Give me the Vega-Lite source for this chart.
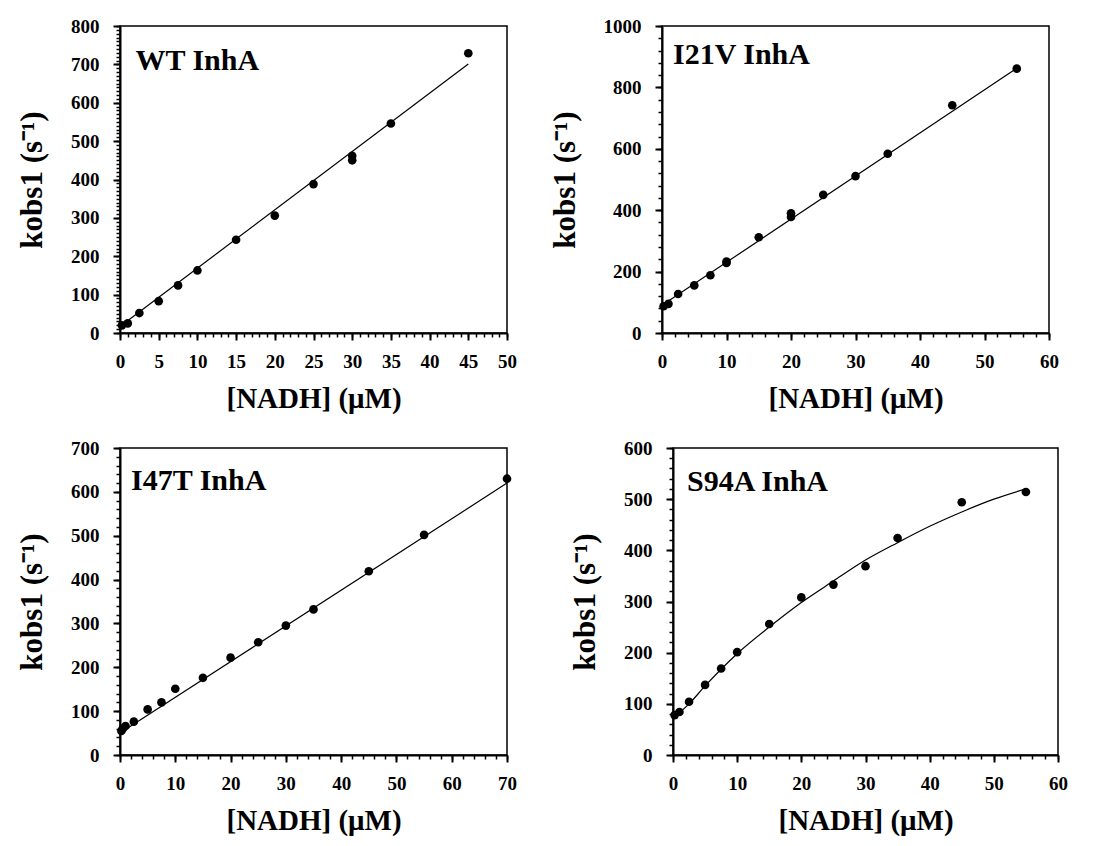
{
  "$schema": "https://vega.github.io/schema/vega-lite/v6.json",
  "padding": {"left": 15, "top": 16, "right": 5, "bottom": 5},
  "background": "white",
  "datasets": {
    "points": [
      {"panel": "WT", "nadh": 0.25, "kobs": 20}, {"panel": "WT", "nadh": 1, "kobs": 25}, {"panel": "WT", "nadh": 2.5, "kobs": 52}, {"panel": "WT", "nadh": 5, "kobs": 83}, {"panel": "WT", "nadh": 7.5, "kobs": 124}, {"panel": "WT", "nadh": 10, "kobs": 163}, {"panel": "WT", "nadh": 15, "kobs": 243}, {"panel": "WT", "nadh": 20, "kobs": 306}, {"panel": "WT", "nadh": 25, "kobs": 388}, {"panel": "WT", "nadh": 30, "kobs": 462}, {"panel": "WT", "nadh": 30, "kobs": 450}, {"panel": "WT", "nadh": 35, "kobs": 546}, {"panel": "WT", "nadh": 45, "kobs": 729},
      {"panel": "I21V", "nadh": 0.25, "kobs": 87}, {"panel": "I21V", "nadh": 1, "kobs": 95}, {"panel": "I21V", "nadh": 2.5, "kobs": 127}, {"panel": "I21V", "nadh": 5, "kobs": 155}, {"panel": "I21V", "nadh": 7.5, "kobs": 188}, {"panel": "I21V", "nadh": 10, "kobs": 233}, {"panel": "I21V", "nadh": 10, "kobs": 228}, {"panel": "I21V", "nadh": 15, "kobs": 312}, {"panel": "I21V", "nadh": 20, "kobs": 390}, {"panel": "I21V", "nadh": 20, "kobs": 378}, {"panel": "I21V", "nadh": 25, "kobs": 450}, {"panel": "I21V", "nadh": 30, "kobs": 511}, {"panel": "I21V", "nadh": 35, "kobs": 584}, {"panel": "I21V", "nadh": 45, "kobs": 742}, {"panel": "I21V", "nadh": 55, "kobs": 861},
      {"panel": "I47T", "nadh": 0.25, "kobs": 55}, {"panel": "I47T", "nadh": 0.5, "kobs": 60}, {"panel": "I47T", "nadh": 1, "kobs": 66}, {"panel": "I47T", "nadh": 2.5, "kobs": 76}, {"panel": "I47T", "nadh": 5, "kobs": 104}, {"panel": "I47T", "nadh": 7.5, "kobs": 120}, {"panel": "I47T", "nadh": 10, "kobs": 151}, {"panel": "I47T", "nadh": 15, "kobs": 176}, {"panel": "I47T", "nadh": 20, "kobs": 222}, {"panel": "I47T", "nadh": 25, "kobs": 257}, {"panel": "I47T", "nadh": 30, "kobs": 295}, {"panel": "I47T", "nadh": 35, "kobs": 332}, {"panel": "I47T", "nadh": 45, "kobs": 419}, {"panel": "I47T", "nadh": 55, "kobs": 502}, {"panel": "I47T", "nadh": 70, "kobs": 630},
      {"panel": "S94A", "nadh": 0.25, "kobs": 78}, {"panel": "S94A", "nadh": 1, "kobs": 84}, {"panel": "S94A", "nadh": 2.5, "kobs": 104}, {"panel": "S94A", "nadh": 5, "kobs": 137}, {"panel": "S94A", "nadh": 7.5, "kobs": 169}, {"panel": "S94A", "nadh": 10, "kobs": 201}, {"panel": "S94A", "nadh": 15, "kobs": 256}, {"panel": "S94A", "nadh": 20, "kobs": 308}, {"panel": "S94A", "nadh": 25, "kobs": 333}, {"panel": "S94A", "nadh": 30, "kobs": 369}, {"panel": "S94A", "nadh": 35, "kobs": 424}, {"panel": "S94A", "nadh": 45, "kobs": 494}, {"panel": "S94A", "nadh": 55, "kobs": 514}
    ],
    "fits": [
      {"panel": "WT", "nadh": 0, "kobs": 17}, {"panel": "WT", "nadh": 45, "kobs": 701},
      {"panel": "I21V", "nadh": 0, "kobs": 90}, {"panel": "I21V", "nadh": 55, "kobs": 862},
      {"panel": "I47T", "nadh": 0, "kobs": 50}, {"panel": "I47T", "nadh": 70, "kobs": 620},
      {"panel": "S94A", "nadh": 0, "kobs": 72}, {"panel": "S94A", "nadh": 2.5, "kobs": 100}, {"panel": "S94A", "nadh": 5, "kobs": 135}, {"panel": "S94A", "nadh": 10, "kobs": 198}, {"panel": "S94A", "nadh": 15, "kobs": 250}, {"panel": "S94A", "nadh": 20, "kobs": 298}, {"panel": "S94A", "nadh": 25, "kobs": 340}, {"panel": "S94A", "nadh": 30, "kobs": 381}, {"panel": "S94A", "nadh": 35, "kobs": 415}, {"panel": "S94A", "nadh": 40, "kobs": 447}, {"panel": "S94A", "nadh": 45, "kobs": 475}, {"panel": "S94A", "nadh": 50, "kobs": 500}, {"panel": "S94A", "nadh": 55, "kobs": 520}
    ],
    "panelnames": [
      {"panel": "WT", "name": "WT InhA"},
      {"panel": "I21V", "name": "I21V InhA"},
      {"panel": "I47T", "name": "I47T InhA"},
      {"panel": "S94A", "name": "S94A InhA"}
    ]
  },
  "spacing": 24,
  "vconcat": [
    {
      "spacing": 30,
      "hconcat": [
        {
          "width": 387, "height": 307,
          "resolve": {"axis": {"x": "independent", "y": "independent"}},
          "layer": [
            {"data": {"name": "fits"}, "transform": [{"filter": "datum.panel === 'WT'"}], "mark": {"type": "line", "color": "black", "strokeWidth": 1.2},
              "encoding": {
                "x": {"field": "nadh", "type": "quantitative", "title": "[NADH] (μM)", "scale": {"domain": [0, 50], "nice": false},
                  "axis": {"orient": "bottom", "ticks": true, "tickColor": "black", "tickWidth": 2, "tickSize": 7, "values": [0,5,10,15,20,25,30,35,40,45,50]}},
                "y": {"field": "kobs", "type": "quantitative", "title": "kobs1 (s⁻¹)", "scale": {"domain": [0, 800], "nice": false},
                  "axis": {"orient": "left", "ticks": true, "tickColor": "black", "tickWidth": 2, "tickSize": 7, "values": [0,100,200,300,400,500,600,700,800]}}
              }},
            {"data": {"name": "points"}, "transform": [{"filter": "datum.panel === 'WT'"}], "mark": {"type": "circle", "color": "black", "opacity": 1, "size": 75},
              "encoding": {
                "x": {"field": "nadh", "type": "quantitative", "title": null,
                  "axis": {"orient": "bottom", "ticks": true, "tickColor": "black", "tickWidth": 1.5, "tickSize": 4, "labels": false, "domain": false, "values": [0,1,2,3,4,5,6,7,8,9,10,11,12,13,14,15,16,17,18,19,20,21,22,23,24,25,26,27,28,29,30,31,32,33,34,35,36,37,38,39,40,41,42,43,44,45,46,47,48,49,50]}},
                "y": {"field": "kobs", "type": "quantitative", "title": null,
                  "axis": {"orient": "left", "ticks": true, "tickColor": "black", "tickWidth": 1.5, "tickSize": 4, "labels": false, "domain": false, "values": [0,10,20,30,40,50,60,70,80,90,100,110,120,130,140,150,160,170,180,190,200,210,220,230,240,250,260,270,280,290,300,310,320,330,340,350,360,370,380,390,400,410,420,430,440,450,460,470,480,490,500,510,520,530,540,550,560,570,580,590,600,610,620,630,640,650,660,670,680,690,700,710,720,730,740,750,760,770,780,790,800]}}
              }},
            {"data": {"name": "panelnames"}, "transform": [{"filter": "datum.panel === 'WT'"}], "mark": {"type": "text", "font": "Liberation Serif", "fontWeight": "bold", "fontSize": 30, "align": "left", "baseline": "alphabetic", "color": "black"},
              "encoding": {"x": {"datum": 2, "type": "quantitative", "axis": null}, "y": {"datum": 685, "type": "quantitative", "axis": null}, "text": {"field": "name", "type": "nominal"}}}
          ]
        },
        {
          "width": 387, "height": 307,
          "resolve": {"axis": {"x": "independent", "y": "independent"}},
          "layer": [
            {"data": {"name": "fits"}, "transform": [{"filter": "datum.panel === 'I21V'"}], "mark": {"type": "line", "color": "black", "strokeWidth": 1.2},
              "encoding": {
                "x": {"field": "nadh", "type": "quantitative", "title": "[NADH] (μM)", "scale": {"domain": [0, 60], "nice": false},
                  "axis": {"orient": "bottom", "ticks": true, "tickColor": "black", "tickWidth": 2, "tickSize": 7, "values": [0,10,20,30,40,50,60]}},
                "y": {"field": "kobs", "type": "quantitative", "title": "kobs1 (s⁻¹)", "scale": {"domain": [0, 1000], "nice": false},
                  "axis": {"orient": "left", "ticks": true, "tickColor": "black", "tickWidth": 2, "tickSize": 7, "values": [0,200,400,600,800,1000]}}
              }},
            {"data": {"name": "points"}, "transform": [{"filter": "datum.panel === 'I21V'"}], "mark": {"type": "circle", "color": "black", "opacity": 1, "size": 75},
              "encoding": {
                "x": {"field": "nadh", "type": "quantitative", "title": null,
                  "axis": {"orient": "bottom", "ticks": true, "tickColor": "black", "tickWidth": 1.5, "tickSize": 4, "labels": false, "domain": false, "values": [0,2,4,6,8,10,12,14,16,18,20,22,24,26,28,30,32,34,36,38,40,42,44,46,48,50,52,54,56,58,60]}},
                "y": {"field": "kobs", "type": "quantitative", "title": null,
                  "axis": {"orient": "left", "ticks": true, "tickColor": "black", "tickWidth": 1.5, "tickSize": 4, "labels": false, "domain": false, "values": [0,40,80,120,160,200,240,280,320,360,400,440,480,520,560,600,640,680,720,760,800,840,880,920,960,1000]}}
              }},
            {"data": {"name": "panelnames"}, "transform": [{"filter": "datum.panel === 'I21V'"}], "mark": {"type": "text", "font": "Liberation Serif", "fontWeight": "bold", "fontSize": 30, "align": "left", "baseline": "alphabetic", "color": "black"},
              "encoding": {"x": {"datum": 1.7, "type": "quantitative", "axis": null}, "y": {"datum": 875, "type": "quantitative", "axis": null}, "text": {"field": "name", "type": "nominal"}}}
          ]
        }
      ]
    },
    {
      "spacing": 50,
      "hconcat": [
        {
          "width": 387, "height": 307,
          "resolve": {"axis": {"x": "independent", "y": "independent"}},
          "layer": [
            {"data": {"name": "fits"}, "transform": [{"filter": "datum.panel === 'I47T'"}], "mark": {"type": "line", "color": "black", "strokeWidth": 1.2},
              "encoding": {
                "x": {"field": "nadh", "type": "quantitative", "title": "[NADH] (μM)", "scale": {"domain": [0, 70], "nice": false},
                  "axis": {"orient": "bottom", "ticks": true, "tickColor": "black", "tickWidth": 2, "tickSize": 7, "values": [0,10,20,30,40,50,60,70]}},
                "y": {"field": "kobs", "type": "quantitative", "title": "kobs1 (s⁻¹)", "scale": {"domain": [0, 700], "nice": false},
                  "axis": {"orient": "left", "ticks": true, "tickColor": "black", "tickWidth": 2, "tickSize": 7, "values": [0,100,200,300,400,500,600,700]}}
              }},
            {"data": {"name": "points"}, "transform": [{"filter": "datum.panel === 'I47T'"}], "mark": {"type": "circle", "color": "black", "opacity": 1, "size": 75},
              "encoding": {
                "x": {"field": "nadh", "type": "quantitative", "title": null,
                  "axis": {"orient": "bottom", "ticks": true, "tickColor": "black", "tickWidth": 1.5, "tickSize": 4, "labels": false, "domain": false, "values": [0,2,4,6,8,10,12,14,16,18,20,22,24,26,28,30,32,34,36,38,40,42,44,46,48,50,52,54,56,58,60,62,64,66,68,70]}},
                "y": {"field": "kobs", "type": "quantitative", "title": null,
                  "axis": {"orient": "left", "ticks": true, "tickColor": "black", "tickWidth": 1.5, "tickSize": 4, "labels": false, "domain": false, "values": [0,20,40,60,80,100,120,140,160,180,200,220,240,260,280,300,320,340,360,380,400,420,440,460,480,500,520,540,560,580,600,620,640,660,680,700]}}
              }},
            {"data": {"name": "panelnames"}, "transform": [{"filter": "datum.panel === 'I47T'"}], "mark": {"type": "text", "font": "Liberation Serif", "fontWeight": "bold", "fontSize": 30, "align": "left", "baseline": "alphabetic", "color": "black"},
              "encoding": {"x": {"datum": 2, "type": "quantitative", "axis": null}, "y": {"datum": 605, "type": "quantitative", "axis": null}, "text": {"field": "name", "type": "nominal"}}}
          ]
        },
        {
          "width": 385, "height": 307,
          "resolve": {"axis": {"x": "independent", "y": "independent"}},
          "layer": [
            {"data": {"name": "fits"}, "transform": [{"filter": "datum.panel === 'S94A'"}], "mark": {"type": "line", "color": "black", "strokeWidth": 1.2, "interpolate": "monotone"},
              "encoding": {
                "x": {"field": "nadh", "type": "quantitative", "title": "[NADH] (μM)", "scale": {"domain": [0, 60], "nice": false},
                  "axis": {"orient": "bottom", "ticks": true, "tickColor": "black", "tickWidth": 2, "tickSize": 7, "values": [0,10,20,30,40,50,60]}},
                "y": {"field": "kobs", "type": "quantitative", "title": "kobs1 (s⁻¹)", "scale": {"domain": [0, 600], "nice": false},
                  "axis": {"orient": "left", "ticks": true, "tickColor": "black", "tickWidth": 2, "tickSize": 7, "values": [0,100,200,300,400,500,600]}}
              }},
            {"data": {"name": "points"}, "transform": [{"filter": "datum.panel === 'S94A'"}], "mark": {"type": "circle", "color": "black", "opacity": 1, "size": 75},
              "encoding": {
                "x": {"field": "nadh", "type": "quantitative", "title": null,
                  "axis": {"orient": "bottom", "ticks": true, "tickColor": "black", "tickWidth": 1.5, "tickSize": 4, "labels": false, "domain": false, "values": [0,2,4,6,8,10,12,14,16,18,20,22,24,26,28,30,32,34,36,38,40,42,44,46,48,50,52,54,56,58,60]}},
                "y": {"field": "kobs", "type": "quantitative", "title": null,
                  "axis": {"orient": "left", "ticks": true, "tickColor": "black", "tickWidth": 1.5, "tickSize": 4, "labels": false, "domain": false, "values": [0,20,40,60,80,100,120,140,160,180,200,220,240,260,280,300,320,340,360,380,400,420,440,460,480,500,520,540,560,580,600]}}
              }},
            {"data": {"name": "panelnames"}, "transform": [{"filter": "datum.panel === 'S94A'"}], "mark": {"type": "text", "font": "Liberation Serif", "fontWeight": "bold", "fontSize": 30, "align": "left", "baseline": "alphabetic", "color": "black"},
              "encoding": {"x": {"datum": 2.2, "type": "quantitative", "axis": null}, "y": {"datum": 516, "type": "quantitative", "axis": null}, "text": {"field": "name", "type": "nominal"}}}
          ]
        }
      ]
    }
  ],
  "config": {
    "view": {"stroke": "black", "strokeWidth": 1.5},
    "axis": {
      "labelFont": "Liberation Serif", "labelFontWeight": "bold", "labelFontSize": 19, "labelColor": "black",
      "titleFont": "Liberation Serif", "titleFontWeight": "bold", "titleFontSize": 29, "titleColor": "black",
      "domainColor": "black", "domainWidth": 2, "ticks": true, "tickColor": "black", "tickWidth": 1.5, "tickSize": 7,
      "grid": false, "labelFlush": false, "labelOverlap": false, "labelBound": false, "format": "d"
    },
    "axisX": {"titlePadding": 13, "labelPadding": 12},
    "axisY": {"titlePadding": 22, "labelPadding": 14, "titleFontSize": 31}
  }
}
